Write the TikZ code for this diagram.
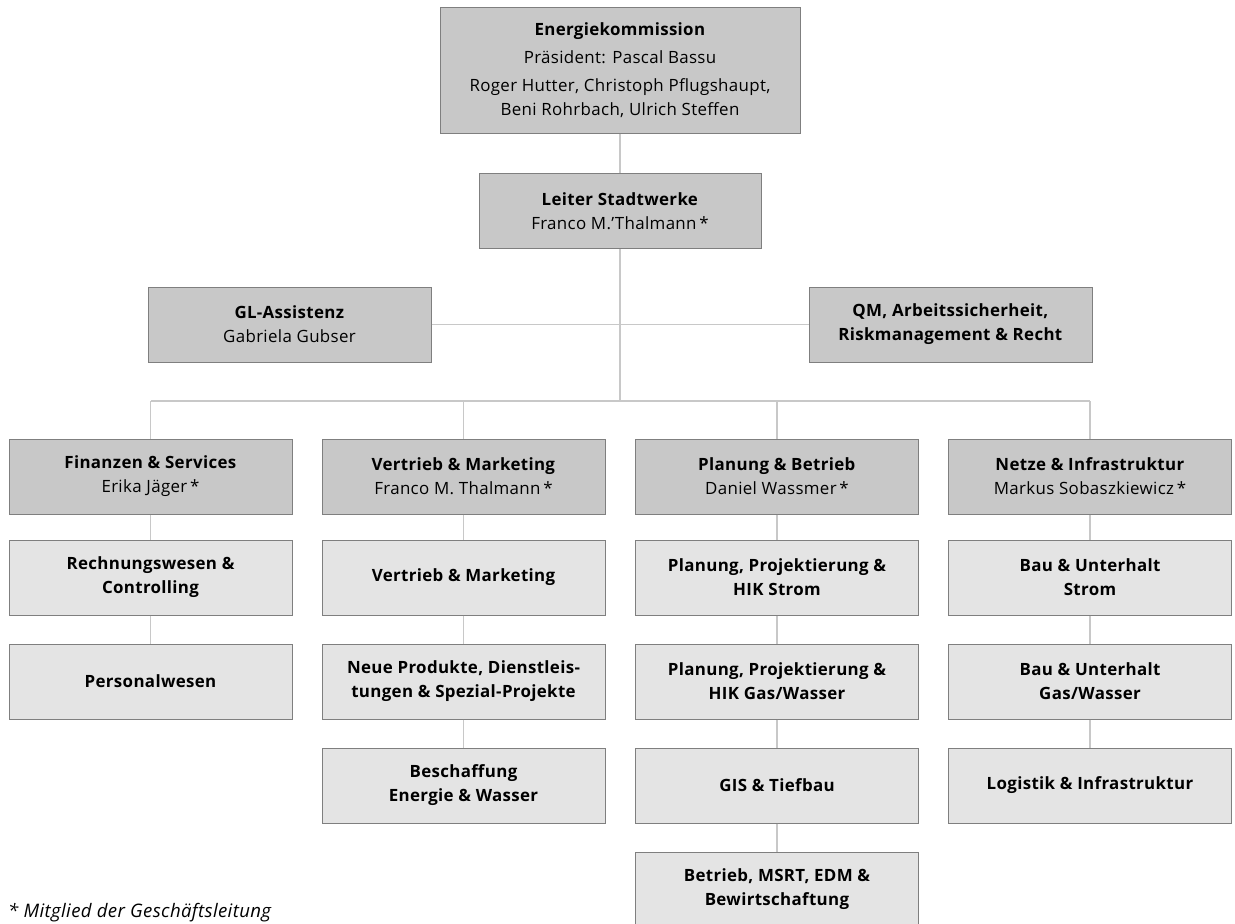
\documentclass[tikz,border=0pt]{standalone}
\usepackage{fontspec}
\setmainfont{Open Sans}[LetterSpace=2]
\definecolor{darkfill}{HTML}{C8C8C8}
\definecolor{lightfill}{HTML}{E4E4E4}
\definecolor{boxline}{HTML}{7F7F7F}
\definecolor{conn}{HTML}{C8C8C8}
\tikzset{
  basebox/.style={draw=boxline, line width=1pt, minimum width=283pt, minimum height=75pt,
    inner sep=0pt, align=center, font=\fontsize{16.9}{24}\selectfont},
  headbox/.style={basebox, fill=darkfill},
  subbox/.style={basebox, fill=lightfill, font=\fontsize{16.9}{24}\selectfont\bfseries},
  link/.style={draw=conn, line width=1.8pt}
}
\begin{document}
\begin{tikzpicture}[x=1pt,y=-1pt]
\useasboundingbox (0,0) rectangle (1235,924);
\clip (0,0) rectangle (1235,924);
% top
\node[headbox, minimum width=360pt, minimum height=126pt] (ek) at (620,70)
  {\textbf{Energiekommission}\\[4pt]Präsident: Pascal Bassu\\[4pt]Roger Hutter, Christoph Pflugshaupt,\\Beni Rohrbach, Ulrich Steffen};
\node[headbox, minimum width=282pt] (ls) at (620,211)
  {\textbf{Leiter Stadtwerke}\\Franco M.’Thalmann\,*};
\node[headbox] (gl) at (289.5,324.5) {\textbf{GL-Assistenz}\\Gabriela Gubser};
\node[headbox] (qm) at (950.5,324.5) {\textbf{QM, Arbeitssicherheit,}\\\textbf{Riskmanagement \& Recht}};
% column heads
\node[headbox] (h1) at (150.5,476.5) {\textbf{Finanzen \& Services}\\Erika Jäger\,*};
\node[headbox] (h2) at (463.5,476.5) {\textbf{Vertrieb \& Marketing}\\Franco M. Thalmann\,*};
\node[headbox] (h3) at (777,476.5) {\textbf{Planung \& Betrieb}\\Daniel Wassmer\,*};
\node[headbox] (h4) at (1090,476.5) {\textbf{Netze \& Infrastruktur}\\Markus Sobaszkiewicz\,*};
% column 1
\node[subbox] (a1) at (150.5,577.5) {Rechnungswesen \&\\Controlling};
\node[subbox] (a2) at (150.5,681.5) {Personalwesen};
% column 2
\node[subbox] (b1) at (463.5,577.5) {Vertrieb \& Marketing};
\node[subbox] (b2) at (463.5,681.5) {Neue Produkte, Dienstleis-\\tungen \& Spezial-Projekte};
\node[subbox] (b3) at (463.5,785.5) {Beschaffung\\Energie \& Wasser};
% column 3
\node[subbox] (c1) at (777,577.5) {Planung, Projektierung \&\\HIK Strom};
\node[subbox] (c2) at (777,681.5) {Planung, Projektierung \&\\HIK Gas/Wasser};
\node[subbox] (c3) at (777,785.5) {GIS \& Tiefbau};
\node[subbox] (c4) at (777,889.5) {Betrieb, MSRT, EDM \&\\Bewirtschaftung};
% column 4
\node[subbox] (d1) at (1090,577.5) {Bau \& Unterhalt\\Strom};
\node[subbox] (d2) at (1090,681.5) {Bau \& Unterhalt\\Gas/Wasser};
\node[subbox] (d3) at (1090,785.5) {Logistik \& Infrastruktur};
% footnote
\node[anchor=west, inner sep=0pt, font=\fontsize{18.6}{22}\selectfont\itshape] (fn) at (8,913)
  {* Mitglied der Geschäftsleitung};
% connectors
\coordinate (busL) at (150.5,401);
\coordinate (busR) at (1090,401);
\draw[link] (ek) -- (ls);
\draw[link] (ls.south) -- (ls.south |- busL);
\draw[link] (gl) -- (qm);
\draw[link] (busL) -- (busR);
\draw[link] (h1.north) -- (h1.north |- busL);
\draw[link] (h2.north) -- (h2.north |- busL);
\draw[link] (h3.north) -- (h3.north |- busL);
\draw[link] (h4.north) -- (h4.north |- busL);
\draw[link] (h1) -- (a1); \draw[link] (a1) -- (a2);
\draw[link] (h2) -- (b1); \draw[link] (b1) -- (b2); \draw[link] (b2) -- (b3);
\draw[link] (h3) -- (c1); \draw[link] (c1) -- (c2); \draw[link] (c2) -- (c3); \draw[link] (c3) -- (c4);
\draw[link] (h4) -- (d1); \draw[link] (d1) -- (d2); \draw[link] (d2) -- (d3);
\end{tikzpicture}
\end{document}
